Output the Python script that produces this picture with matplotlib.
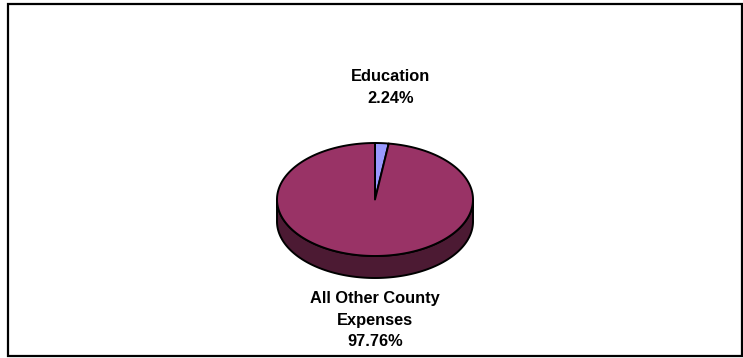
import numpy as np
import matplotlib
matplotlib.use("Agg")
import matplotlib.pyplot as plt
from matplotlib.patches import Polygon, Rectangle

# Budget share data
categories = ["Education", "All Other County\nExpenses"]
shares = [2.24, 97.76]
top_colors = ["#9999FF", "#993366"]
side_colors = ["#3D3D80", "#4C1A33"]

W, H = 743, 358
fig = plt.figure(figsize=(W / 100, H / 100), dpi=100)
ax = fig.add_axes([0, 0, 1, 1])
ax.set_xlim(0, W)
ax.set_ylim(H, 0)
ax.axis("off")

# Outer chart border
ax.add_patch(Rectangle((8, 4), 734, 352, fill=False, edgecolor="black", linewidth=1.6))

# 3-D pie geometry (pixel space, y grows downward)
cx, cy = 375, 199.5
a, b = 98, 56.5
depth = 22


def rim(theta):
    """Point on the top ellipse; theta in degrees, clockwise from 12 o'clock."""
    t = np.radians(theta)
    return cx + a * np.sin(t), cy - b * np.cos(t)


total = float(sum(shares))
bounds = np.concatenate([[0.0], np.cumsum(shares) / total * 360.0])

# Side walls: only the front half (90..270 deg) is visible
for i in range(len(shares)):
    lo = max(bounds[i], 90.0)
    hi = min(bounds[i + 1], 270.0)
    if hi <= lo:
        continue
    th = np.linspace(lo, hi, 200)
    xs, ys = rim(th)
    pts = np.vstack([np.column_stack([xs, ys]),
                     np.column_stack([xs[::-1], ys[::-1] + depth])])
    ax.add_patch(Polygon(pts, closed=True, facecolor=side_colors[i],
                         edgecolor="black", linewidth=1.4, joinstyle="round"))

# Top faces
for i in range(len(shares)):
    th = np.linspace(bounds[i], bounds[i + 1], 400)
    xs, ys = rim(th)
    pts = np.vstack([[cx, cy], np.column_stack([xs, ys])])
    ax.add_patch(Polygon(pts, closed=True, facecolor=top_colors[i],
                         edgecolor="black", linewidth=1.4, joinstyle="round"))

# Data labels
font = dict(family=["Liberation Sans", "DejaVu Sans"], fontweight="bold",
            fontsize=11.8, color="black", ha="center", va="center",
            multialignment="center", linespacing=1.55)
label_pos = [(391, 87.5), (375, 320)]
for cat, val, (lx, ly) in zip(categories, shares, label_pos):
    ax.text(lx, ly, f"{cat}\n{val:.2f}%", **font)

fig.savefig("out.png", dpi=100)
